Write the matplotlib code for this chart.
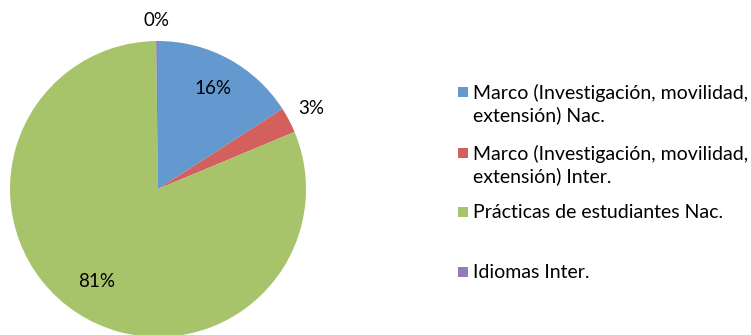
import matplotlib
matplotlib.use('Agg')
import matplotlib.pyplot as plt
import numpy as np
from matplotlib.patches import Rectangle

# data
labels = [
    'Marco (Investigación, movilidad,\nextensión) Nac.',
    'Marco (Investigación, movilidad,\nextensión) Inter.',
    'Prácticas de estudiantes Nac.',
    'Idiomas Inter.',
]
values = [15.9, 2.8, 81.1, 0.2]
pct_text = ['16%', '3%', '81%', '0%']
colors = ['#6399CE', '#D3605C', '#A8C46A', '#957CB8']

# label distance per slice (inside / outside the pie)
label_dist = [0.77, 1.17, 0.75, 1.14]

plt.rcParams['font.family'] = ['Lato', 'DejaVu Sans']

W, H = 751, 335
fig = plt.figure(figsize=(W / 100, H / 100), dpi=100)
fig.patch.set_facecolor('white')

# pie axes: centre ~ (158, 189) px, radius ~148 px
cx, cy, r = 158, 189, 148
ax = fig.add_axes([(cx - r) / W, (H - cy - r) / H, 2 * r / W, 2 * r / H])
wedges, _ = ax.pie(values, colors=colors, startangle=90, counterclock=False,
                   radius=1.0, wedgeprops=dict(linewidth=0))
ax.set_xlim(-1, 1)
ax.set_ylim(-1, 1)
ax.set_aspect('equal')
ax.axis('off')

for w, txt, d in zip(wedges, pct_text, label_dist):
    ang = np.deg2rad((w.theta1 + w.theta2) / 2)
    ax.text(d * np.cos(ang), d * np.sin(ang), txt, ha='center', va='center',
            fontsize=13.5, color='#000000', clip_on=False)

# legend, evenly spaced like the original
entry_top = [85, 146, 205, 265]
for lab, col, top in zip(labels, colors, entry_top):
    fig.patches.append(Rectangle((458 / W, 1 - (top + 12) / H), 10 / W, 10 / H,
                                 transform=fig.transFigure, facecolor=col,
                                 edgecolor='none'))
    fig.text(473 / W, 1 - (top - 1) / H, lab, ha='left', va='top',
             fontsize=14, linespacing=1.25, color='#000000')

fig.savefig('out.png', dpi=100, facecolor='white')
